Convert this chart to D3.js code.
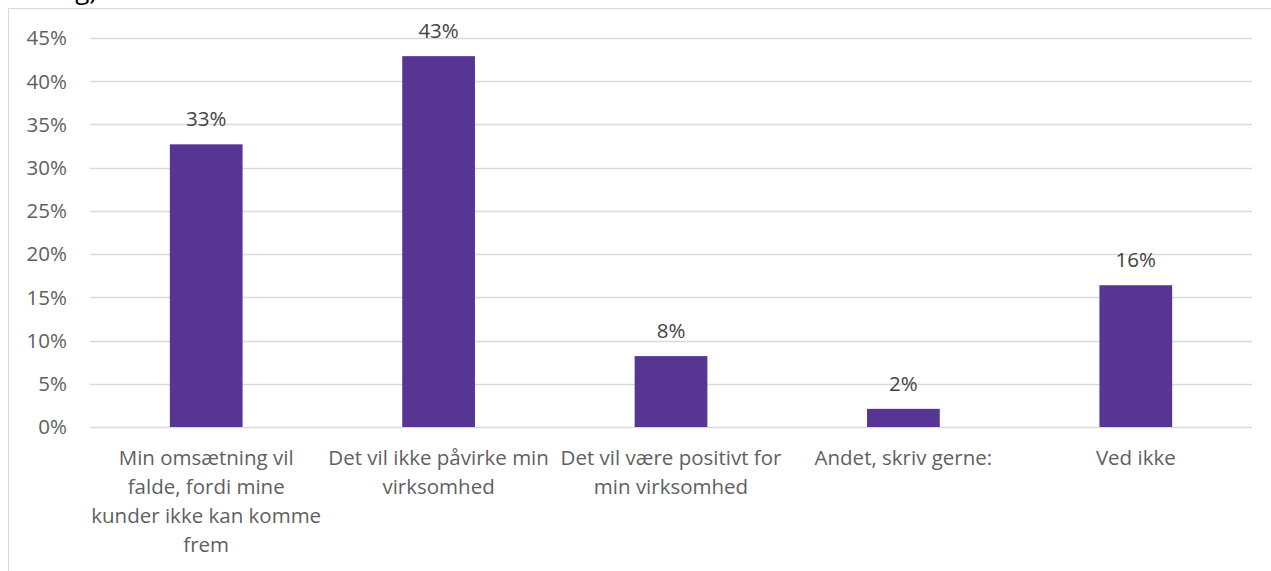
<!DOCTYPE html>
<html>
<head>
<meta charset="utf-8">
<script src="https://cdn.jsdelivr.net/npm/d3@7"></script>
<style>
  html, body { margin: 0; padding: 0; background: #fff; }
  svg { display: block; }
</style>
</head>
<body>
<svg id="chart" width="1271" height="571"></svg>
<script>
const categories = [
  "Min omsætning vil\nfalde, fordi mine\nkunder ikke kan komme\nfrem",
  "Det vil ikke påvirke min\nvirksomhed",
  "Det vil være positivt for\nmin virksomhed",
  "Andet, skriv gerne:",
  "Ved ikke"
];
const values = [32.7, 42.9, 8.2, 2.1, 16.4];
const valueLabels = ["33%", "43%", "8%", "2%", "16%"];
const yTicks = [0, 5, 10, 15, 20, 25, 30, 35, 40, 45];
const yTickLabels = ["0%", "5%", "10%", "15%", "20%", "25%", "30%", "35%", "40%", "45%"];
const titleFragment = "ning)";

const svg = d3.select("#chart");
const W = 1271, H = 571;
const font = "'Open Sans', 'Noto Sans', sans-serif";
const fs = 20.5;

svg.append("rect").attr("width", W).attr("height", H).attr("fill", "#fff");

// cut-off title fragment at the top (as in the reference)
svg.append("text")
  .attr("x", 97).attr("y", -1)
  .attr("text-anchor", "end")
  .attr("font-family", font).attr("font-size", 26)
  .attr("fill", "#000")
  .text(titleFragment);

// chart frame
svg.append("rect")
  .attr("x", 8.5).attr("y", 8.5).attr("width", 1270).attr("height", 600)
  .attr("fill", "none").attr("stroke", "#d9d9d9").attr("stroke-width", 1);

const x = d3.scaleBand().domain(d3.range(categories.length)).range([90, 1252]).padding(0);
const y = d3.scaleLinear().domain([0, 45]).range([427, 38]);
const barW = x.bandwidth() * 0.313;

// gridlines
svg.append("g").selectAll("line").data(yTicks).join("line")
  .attr("x1", 90).attr("x2", 1252)
  .attr("y1", d => Math.round(y(d)) + 0.5).attr("y2", d => Math.round(y(d)) + 0.5)
  .attr("stroke", "#d9d9d9").attr("stroke-width", 1.3);

// y tick labels
svg.append("g").selectAll("text").data(yTicks).join("text")
  .attr("x", 67).attr("y", d => y(d))
  .attr("dy", "0.36em")
  .attr("text-anchor", "end")
  .attr("font-family", font).attr("font-size", fs)
  .attr("fill", "#5f5f5f")
  .text((d, i) => yTickLabels[i]);

// bars
svg.append("g").selectAll("rect").data(values).join("rect")
  .attr("x", (d, i) => x(i) + x.bandwidth() / 2 - barW / 2)
  .attr("width", barW)
  .attr("y", d => y(d))
  .attr("height", d => y(0) - y(d))
  .attr("fill", "#573592");

// value labels
svg.append("g").selectAll("text").data(values).join("text")
  .attr("x", (d, i) => x(i) + x.bandwidth() / 2)
  .attr("y", d => y(d) - 18)
  .attr("text-anchor", "middle")
  .attr("font-family", font).attr("font-size", fs)
  .attr("fill", "#444444")
  .text((d, i) => valueLabels[i]);

// category labels
const cat = svg.append("g").selectAll("text").data(categories).join("text")
  .attr("x", (d, i) => x(i) + x.bandwidth() / 2)
  .attr("y", 465)
  .attr("text-anchor", "middle")
  .attr("font-family", font).attr("font-size", fs)
  .attr("fill", "#5f5f5f");
cat.each(function(d, i) {
  const t = d3.select(this);
  d.split("\n").forEach((line, j) => {
    t.append("tspan")
      .attr("x", x(i) + x.bandwidth() / 2)
      .attr("y", 465 + j * 29)
      .text(line);
  });
});
</script>
</body>
</html>
